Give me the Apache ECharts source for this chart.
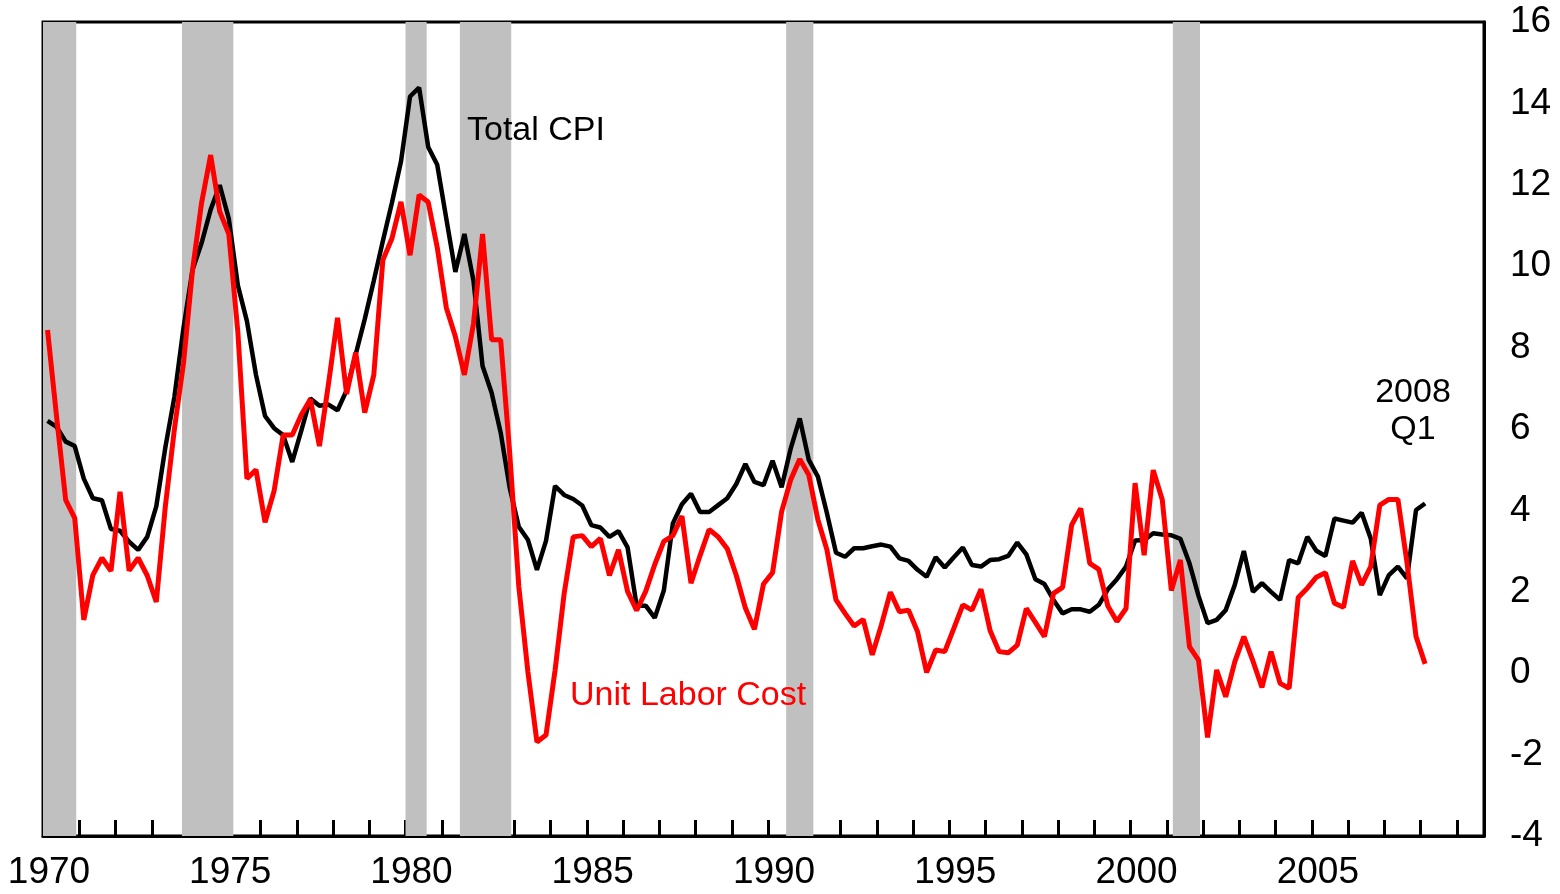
<!DOCTYPE html>
<html>
<head>
<meta charset="utf-8">
<script src="https://cdn.jsdelivr.net/npm/echarts@6/dist/echarts.min.js"></script>
<style>
  html, body { margin: 0; padding: 0; background: #fff; }
  #chart { width: 1560px; height: 894px; }
</style>
</head>
<body>
<div id="chart"></div>
<script>
// quarterly data, 1970Q1 .. 2008Q1 (one row per year)
const startYear = 1970;
const axisEnd = 2009.75;

const totalCpi = [
  6.20, 6.05, 5.69, 5.58,
  4.78, 4.30, 4.25, 3.54,
  3.50, 3.23, 3.03, 3.35,
  4.10, 5.55, 6.79, 8.48,
  9.91, 10.57, 11.39, 11.99,
  11.17, 9.53, 8.65, 7.33,
  6.32, 6.02, 5.85, 5.19,
  5.96, 6.75, 6.57, 6.60,
  6.46, 6.95, 7.83, 8.70,
  9.64, 10.62, 11.56, 12.57,
  14.17, 14.39, 12.93, 12.49,
  11.17, 9.86, 10.79, 9.64,
  7.55, 6.89, 5.91, 4.55,
  3.60, 3.28, 2.54, 3.25,
  4.60, 4.38, 4.28, 4.12,
  3.64, 3.58, 3.35, 3.49,
  3.09, 1.66, 1.66, 1.36,
  2.03, 3.68, 4.15, 4.41,
  3.96, 3.96, 4.13, 4.30,
  4.65, 5.14, 4.70, 4.62,
  5.22, 4.57, 5.52, 6.26,
  5.24, 4.83, 3.93, 2.96,
  2.86, 3.07, 3.07, 3.12,
  3.16, 3.11, 2.82, 2.76,
  2.54, 2.37, 2.85, 2.60,
  2.85, 3.09, 2.66, 2.62,
  2.78, 2.80, 2.88, 3.21,
  2.92, 2.31, 2.19, 1.80,
  1.47, 1.57, 1.57, 1.51,
  1.68, 2.06, 2.31, 2.62,
  3.26, 3.27, 3.44, 3.41,
  3.39, 3.30, 2.70, 1.90,
  1.23, 1.31, 1.55, 2.17,
  3.00, 2.00, 2.21, 2.00,
  1.80, 2.78, 2.70, 3.35,
  3.01, 2.88, 3.80, 3.75,
  3.70, 3.94, 3.31, 1.92,
  2.41, 2.62, 2.33, 4.01,
  4.17
];

const unitLaborCost = [
  8.43, 6.30, 4.26, 3.81,
  1.31, 2.41, 2.83, 2.51,
  4.46, 2.52, 2.83, 2.40,
  1.75, 4.10, 6.00, 7.61,
  9.91, 11.56, 12.73, 11.34,
  10.79, 8.38, 4.78, 5.00,
  3.71, 4.48, 5.85, 5.85,
  6.35, 6.73, 5.58, 7.11,
  8.73, 6.86, 7.88, 6.40,
  7.33, 10.15, 10.68, 11.58,
  10.27, 11.75, 11.58, 10.46,
  8.98, 8.27, 7.33, 8.59,
  10.79, 8.19, 8.19, 5.40,
  2.13, 0.04, -1.69, -1.52,
  0.07, 1.95, 3.35, 3.38,
  3.11, 3.31, 2.40, 3.03,
  2.01, 1.54, 2.01, 2.67,
  3.24, 3.38, 3.86, 2.21,
  2.89, 3.53, 3.35, 3.06,
  2.40, 1.60, 1.08, 2.19,
  2.47, 3.97, 4.75, 5.26,
  4.87, 3.77, 3.03, 1.80,
  1.47, 1.16, 1.32, 0.45,
  1.18, 1.99, 1.51, 1.55,
  1.02, 0.02, 0.57, 0.53,
  1.10, 1.68, 1.55, 2.06,
  1.05, 0.53, 0.50, 0.69,
  1.59, 1.25, 0.90, 1.96,
  2.11, 3.64, 4.05, 2.70,
  2.55, 1.65, 1.27, 1.59,
  4.67, 2.90, 4.99, 4.26,
  2.03, 2.78, 0.65, 0.32,
  -1.58, 0.08, -0.58, 0.28,
  0.90, 0.30, -0.35, 0.53,
  -0.25, -0.37, 1.86, 2.09,
  2.36, 2.47, 1.72, 1.62,
  2.76, 2.17, 2.62, 4.13,
  4.27, 4.27, 2.72, 0.90,
  0.23
];

// NBER recessions: [start year, start month, end year, end month]
const recessions = [
  [1969, 12, 1970, 11],
  [1973, 11, 1975, 3],
  [1980, 1, 1980, 7],
  [1981, 7, 1982, 11],
  [1990, 7, 1991, 3],
  [2001, 3, 2001, 11]
];

const yTicks = { min: -4, max: 16, step: 2 };

// quarter i sits at the middle of its quarter
const toPairs = vals => vals.map((v, i) => [startYear + (i + 0.5) / 4, v]);

const bands = recessions.map(r => [
  { xAxis: Math.max(startYear, r[0] + (r[1] - 1) / 12) },
  { xAxis: r[2] + r[3] / 12 }
]);

const FONT = "'Liberation Sans', Arial, sans-serif";

const chart = echarts.init(document.getElementById('chart'));
chart.setOption({
  animation: false,
  backgroundColor: '#fff',
  grid: {
    left: 43, right: 76, top: 22, bottom: 58,
    show: true, borderColor: '#000', borderWidth: 3, backgroundColor: 'transparent'
  },
  xAxis: {
    type: 'value',
    min: startYear,
    max: axisEnd,
    interval: 1,
    splitLine: { show: false },
    axisLine: { show: true, onZero: false, lineStyle: { color: '#000', width: 3 } },
    axisTick: { show: true, inside: true, length: 16, lineStyle: { color: '#000', width: 3 } },
    axisLabel: {
      color: '#000', fontSize: 37, fontFamily: FONT, margin: 18,
      padding: [0, 0, 0, 12],
      formatter: v => (v % 5 === 0 ? String(v) : '')
    }
  },
  yAxis: {
    type: 'value',
    position: 'right',
    min: yTicks.min,
    max: yTicks.max,
    interval: yTicks.step,
    splitLine: { show: false },
    axisLine: { show: true, lineStyle: { color: '#000', width: 3 } },
    axisTick: { show: false },
    axisLabel: { color: '#000', fontSize: 37, fontFamily: FONT, margin: 26 }
  },
  series: [
    {
      name: 'recessions',
      type: 'line',
      data: [],
      z: 1,
      silent: true,
      markArea: {
        silent: true,
        itemStyle: { color: '#c0c0c0' },
        data: bands
      }
    },
    {
      name: 'Total CPI',
      type: 'line',
      data: toPairs(totalCpi),
      showSymbol: false,
      z: 3,
      lineStyle: { color: '#000', width: 4.5 }
    },
    {
      name: 'Unit Labor Cost',
      type: 'line',
      data: toPairs(unitLaborCost),
      showSymbol: false,
      z: 4,
      lineStyle: { color: '#ff0000', width: 5 }
    }
  ],
  graphic: [
    { type: 'text', z: 100, x: 467, y: 131, style: { text: 'Total CPI', fill: '#000', font: '34px ' + FONT, verticalAlign: 'middle' } },
    { type: 'text', z: 100, x: 570, y: 696, style: { text: 'Unit Labor Cost', fill: '#ff0000', font: '34px ' + FONT, verticalAlign: 'middle' } },
    { type: 'text', z: 100, x: 1413, y: 393, style: { text: '2008', fill: '#000', font: '34px ' + FONT, align: 'center', verticalAlign: 'middle' } },
    { type: 'text', z: 100, x: 1413, y: 430, style: { text: 'Q1', fill: '#000', font: '34px ' + FONT, align: 'center', verticalAlign: 'middle' } }
  ]
});
</script>
</body>
</html>
